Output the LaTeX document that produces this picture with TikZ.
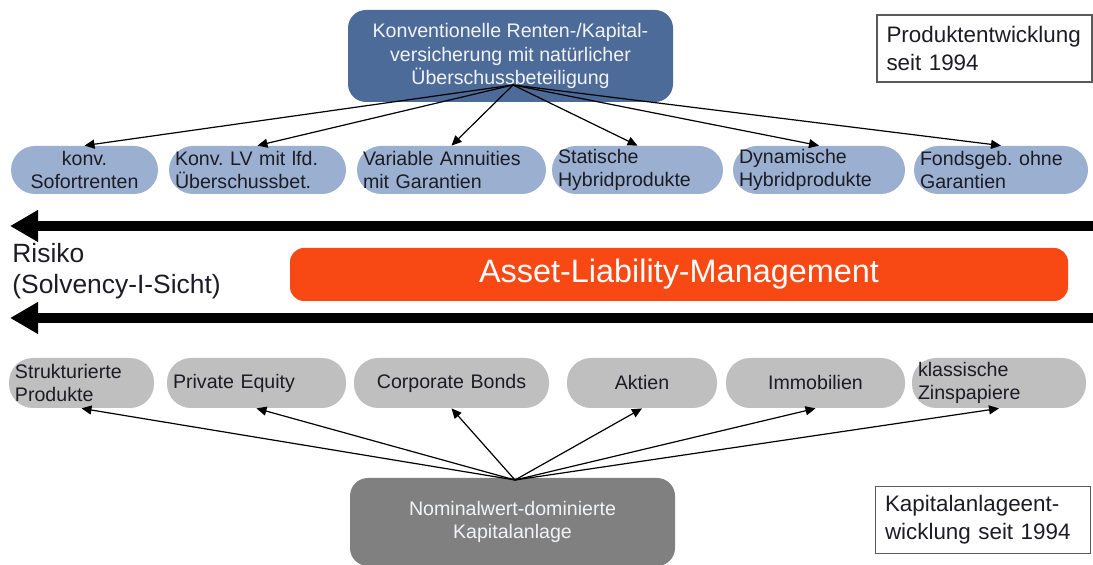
\documentclass[tikz,border=0pt]{standalone}
\usepackage{fontspec}
\setmainfont{Liberation Sans}
\usetikzlibrary{arrows.meta}
\frenchspacing
\definecolor{ink}{RGB}{28,28,36}
\definecolor{steel}{RGB}{77,107,152}
\definecolor{lav}{RGB}{155,176,209}
\definecolor{flame}{RGB}{248,72,20}
\definecolor{silver}{RGB}{191,191,191}
\definecolor{slate}{RGB}{128,128,128}
\definecolor{frame}{RGB}{90,90,90}

\begin{document}
\begin{tikzpicture}[x=0.5pt,y=-0.5pt,head/.style={fill=steel,text=white!92!steel,rounded corners=9pt,minimum width=162.5pt,minimum height=46pt,align=center,font=\fontsize{9.8}{11.6}\selectfont},pill/.style={rounded corners=12pt,minimum height=24pt,inner xsep=3pt,inner ysep=1pt,text=ink,align=left,font=\fontsize{9.8}{11.6}\selectfont},prod/.style={pill,fill=lav},asset/.style={pill,fill=silver,minimum height=25pt},info/.style={draw=frame,line width=0.7pt,text width=98pt,inner xsep=4.75pt,minimum height=33.5pt,align=left,text=ink,font=\fontsize{11.2}{14}\selectfont},alm/.style={fill=flame,text=white,rounded corners=7pt,minimum width=389pt,minimum height=26.5pt,font=\fontsize{16.2}{18}\selectfont},arrow/.style={-{Triangle[length=5pt,width=4.5pt]},line width=0.6pt,draw=black},risk/.style={-{Triangle[length=14pt,width=15pt]},line width=5pt,draw=black}]
\useasboundingbox (0,0) rectangle (1093,565); \clip (0,0) rectangle (1093,565);
% liabilities side
\node[head] (konv) at (510.5,56) {Konventionelle Renten-/Kapital-\\versicherung mit natürlicher\\Überschussbeteiligung};
\node[info] (prodent) at (984.5,48.5) {Produktentwicklung\\seit 1994};
\node[prod,text width=67.5pt,align=center] (sofort) at (84.5,170) {konv.\\Sofortrenten};
\node[prod,text width=82.5pt] (konvlv) at (257.5,170) {Konv. LV mit lfd.\\Überschussbet.};
\node[prod,text width=88.5pt] (va) at (451.5,170) {Variable Annuities\\mit Garantien};
\node[prod,text width=79.5pt] (statisch) at (637.5,170) {Statische\\Hybridprodukte};
\node[prod,text width=80pt] (dynamisch) at (819,170) {Dynamische\\Hybridprodukte};
\node[prod,text width=81pt] (fonds) at (1001,170) {Fondsgeb. ohne\\Garantien};
% risk band
\node[anchor=west,inner sep=0pt,align=left,text=ink,font=\fontsize{13.2}{15.5}\selectfont] (risiko) at (12,271) {Risiko\\(Solvency-I-Sicht)};
\node[alm] (alm) at (679,274.5) {Asset-Liability-Management};
\coordinate (upE) at (1093,226); \coordinate (upW) at (10,226);
\coordinate (loE) at (1093,318); \coordinate (loW) at (10,318);
\draw[risk] (upE)--(upW); \draw[risk] (loE)--(loW);
% assets side
\node[asset,text width=66.5pt] (struk) at (81.5,383) {Strukturierte\\Produkte};
\node[asset,text width=83.5pt] (pe) at (256.5,383) {Private Equity};
\node[asset,text width=91.5pt,align=center] (corp) at (451.5,383) {Corporate Bonds};
\node[asset,text width=69pt,align=center] (aktien) at (642,383) {Aktien};
\node[asset,text width=83.5pt,align=center] (immo) at (815.5,383) {Immobilien};
\node[asset,text width=81pt] (zins) at (999,383) {klassische\\Zinspapiere};
\node[head,fill=slate,minimum height=44pt] (nominal) at (512.5,522) {Nominalwert-dominierte\\Kapitalanlage};
\node[info] (kapent) at (983,520) {Kapitalanlageent-\\wicklung seit 1994};
\coordinate (tsrc) at (513,85); \coordinate (bsrc) at (515,480);
\draw[arrow] (tsrc)--(sofort.north); \draw[arrow] (tsrc)--(konvlv.north); \draw[arrow] (tsrc)--(va.north);
\draw[arrow] (tsrc)--(statisch.north); \draw[arrow] (tsrc)--(dynamisch.north); \draw[arrow] (tsrc)--(fonds.north);
\draw[arrow] (bsrc)--(struk.south); \draw[arrow] (bsrc)--(pe.south); \draw[arrow] (bsrc)--(corp.south);
\draw[arrow] (bsrc)--(aktien.south); \draw[arrow] (bsrc)--(immo.south); \draw[arrow] (bsrc)--(zins.south);
\end{tikzpicture}
\end{document}
